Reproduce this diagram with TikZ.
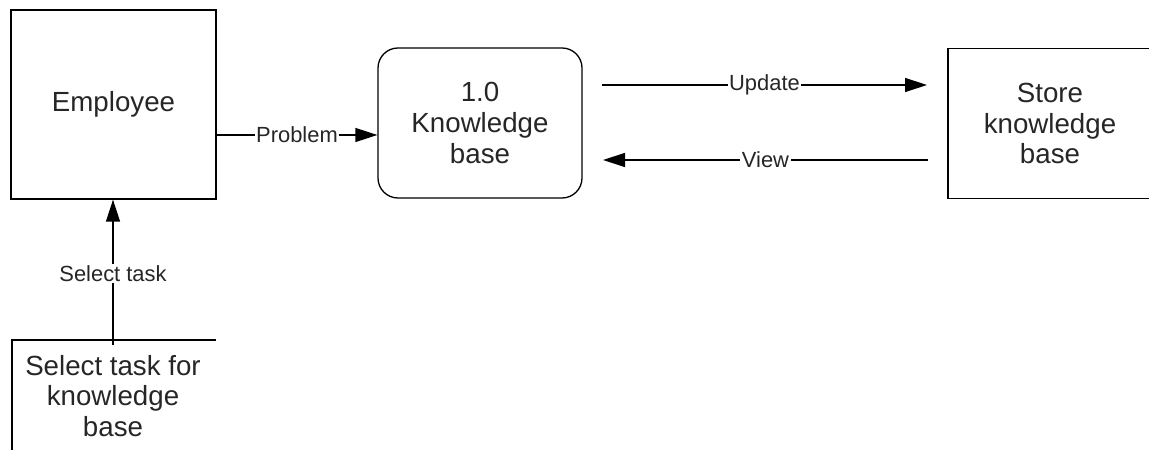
\documentclass[tikz,border=0pt]{standalone}
\usepackage{fontspec}
\setmainfont{Liberation Sans}
\usetikzlibrary{arrows.meta}
\begin{document}
\begin{tikzpicture}[x=1bp,y=-1bp,
  every node/.style={text=black!85},
  box/.style={draw, line width=1.3bp, minimum width=204bp, minimum height=150bp, align=center,
    font=\fontsize{27.8}{31}\selectfont, inner sep=0pt},
  lbl/.style={fill=white, inner sep=1.5bp, font=\fontsize{22}{24}\selectfont},
  flow/.style={line width=1.3bp, -{Triangle[length=22bp,width=14bp]}}]
\useasboundingbox (0,0) rectangle (1149,450);
\clip (0,0) rectangle (1149,450);
\node[box, minimum width=205bp, minimum height=189bp] (emp) at (113.5,104.5) {Employee};
\node[box, rounded corners=20bp] (kb) at (480,123) {1.0\\Knowledge\\base};
\node[box] (store) at (1050,123.5) {Store\\knowledge\\base};
\node[align=center, font=\fontsize{27.8}{31}\selectfont, inner sep=0pt] (ds) at (113,396) {Select task for\\knowledge\\base};
\coordinate (dstl) at (12,340);
\coordinate (dstr) at (216,340);
\coordinate (dsbl) at (12,452);
\coordinate (dstop) at (113,345);
\draw[line width=1.3bp] (dstr) -- (dstl) -- (dsbl);
\coordinate (u1) at (602,85);
\coordinate (u2) at (927,85);
\coordinate (v1) at (928,160);
\coordinate (v2) at (603,160);
\draw[flow] (emp.east |- 0,135) -- node[lbl] {Problem} (kb.west |- 0,135);
\draw[flow] (u1) -- node[lbl] {Update} (u2);
\draw[flow] (v1) -- node[lbl] {View} (v2);
\draw[flow] (dstop) -- node[lbl, pos=0.49] {Select task} (dstop |- emp.south);
\end{tikzpicture}
\end{document}
